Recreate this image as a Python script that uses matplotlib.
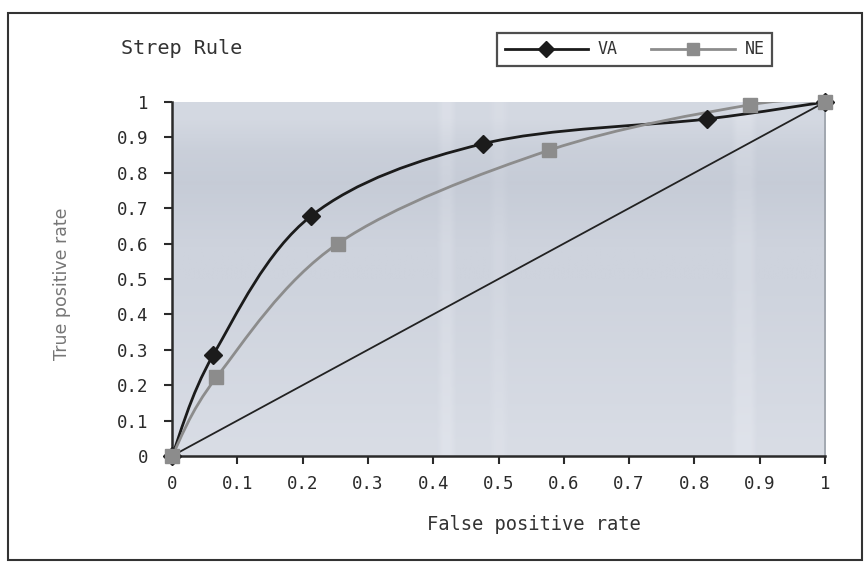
import numpy as np
import matplotlib
matplotlib.use("Agg")
import matplotlib.pyplot as plt
from matplotlib.path import Path
from matplotlib.patches import PathPatch, Rectangle
from matplotlib.lines import Line2D

plt.rcParams["font.family"] = ["DejaVu Sans Mono", "DejaVu Sans"]

# ---- data ----
va_fpr = [0.0, 0.063, 0.213, 0.476, 0.819, 1.0]
va_tpr = [0.0, 0.285, 0.678, 0.882, 0.952, 1.0]
ne_fpr = [0.0, 0.068, 0.254, 0.578, 0.885, 1.0]
ne_tpr = [0.0, 0.222, 0.600, 0.864, 0.992, 1.0]
diag = [0.0, 1.0]
x_ticks = [0, 0.1, 0.2, 0.3, 0.4, 0.5, 0.6, 0.7, 0.8, 0.9, 1]
x_tick_labels = ["0", "0.1", "0.2", "0.3", "0.4", "0.5", "0.6", "0.7", "0.8", "0.9", "1"]
y_ticks = x_ticks
y_tick_labels = x_tick_labels
title = "Strep Rule"
series_names = ["VA", "NE"]

W, H = 868, 566
fig = plt.figure(figsize=(W / 100, H / 100), dpi=100)
fig.patch.set_facecolor("white")

ax = fig.add_axes([172 / W, 1 - 456 / H, (825 - 172) / W, (456 - 102) / H])
ax.set_xlim(0, 1)
ax.set_ylim(0, 1)

# plot-area background (scanned gray-blue look)
rows = np.array([0.86, 0.85, 0.84, 0.83, 0.82, 0.81, 0.81, 0.79, 0.77, 0.79, 0.84])
cols = np.zeros(100)
cols[41:43] = 0.035
cols[49:51] = 0.02
cols[86:89] = 0.035
bg = rows[:, None] + cols[None, :]
cmap = matplotlib.colors.LinearSegmentedColormap.from_list("bg", ["#b8bfcc", "#e4e7ee"])
ax.imshow(bg, extent=[0, 1, 0, 1], aspect="auto", cmap=cmap, vmin=0.7, vmax=0.92,
          origin="lower", zorder=0, interpolation="bilinear")


def smooth_path(xs, ys):
    pts = np.column_stack([xs, ys]).astype(float)
    n = len(pts)
    verts = [pts[0]]
    codes = [Path.MOVETO]
    for i in range(n - 1):
        p0 = pts[max(i - 1, 0)]
        p1 = pts[i]
        p2 = pts[i + 1]
        p3 = pts[min(i + 2, n - 1)]
        c1 = p1 + (p2 - p0) / 6.0
        c2 = p2 - (p3 - p1) / 6.0
        verts += [c1, c2, p2]
        codes += [Path.CURVE4] * 3
    return Path(verts, codes)


ax.plot(diag, diag, color="#222222", lw=1.3, zorder=2)

va_col = "#1b1b1b"
ne_col = "#8c8c8c"
ax.add_patch(PathPatch(smooth_path(va_fpr, va_tpr), fill=False, edgecolor=va_col, lw=2.0, zorder=3))
ax.add_patch(PathPatch(smooth_path(ne_fpr, ne_tpr), fill=False, edgecolor=ne_col, lw=2.0, zorder=3))
ax.plot(va_fpr, va_tpr, ls="none", marker="D", ms=9, color=va_col, zorder=4, clip_on=False)
ax.plot(ne_fpr, ne_tpr, ls="none", marker="s", ms=10, color=ne_col, zorder=5, clip_on=False)

ax.spines["top"].set_visible(False)
ax.spines["right"].set_color("#9aa0a8")
ax.spines["right"].set_linewidth(1.2)
for s in ["left", "bottom"]:
    ax.spines[s].set_color("#2a2a2a")
    ax.spines[s].set_linewidth(1.8)

ax.set_xticks(x_ticks)
ax.set_xticklabels(x_tick_labels)
ax.set_yticks(y_ticks)
ax.set_yticklabels(y_tick_labels)
ax.tick_params(axis="both", direction="out", length=6, width=1.5, color="#2a2a2a",
               labelsize=12.5, labelcolor="#2a2a2a")
ax.tick_params(axis="x", pad=8)
ax.tick_params(axis="y", pad=11)

fig.text(534 / W, 1 - 525 / H, "False positive rate", ha="center", va="center",
         fontsize=13.5, color="#333333")
fig.text(62 / W, 1 - 284 / H, "True positive rate", rotation=90, ha="center", va="center",
         fontsize=12.5, color="#767676", family="DejaVu Sans")

fig.text(121 / W, 1 - 48 / H, title, ha="left", va="center", fontsize=14.5, color="#333333")

handles = [Line2D([0], [0], color=va_col, lw=2, marker="D", ms=8),
           Line2D([0], [0], color=ne_col, lw=2, marker="s", ms=9)]
leg = fig.legend(handles, series_names, loc="lower left",
                 bbox_to_anchor=(497 / W, 1 - 66 / H, (772 - 497) / W, 33 / H),
                 mode="expand", ncol=2, frameon=True, fancybox=False, fontsize=12,
                 handlelength=5.0, borderaxespad=0, borderpad=0.45, handletextpad=0.6,
                 columnspacing=1.4)
leg.get_frame().set_edgecolor("#222222")
leg.get_frame().set_linewidth(1.6)
for t in leg.get_texts():
    t.set_color("#333333")

fig.add_artist(Rectangle((8 / W, 1 - 560 / H), (862 - 8) / W, (560 - 13) / H,
                         transform=fig.transFigure, fill=False, edgecolor="#333333", lw=1.5))

fig.savefig("out.png", dpi=100)
